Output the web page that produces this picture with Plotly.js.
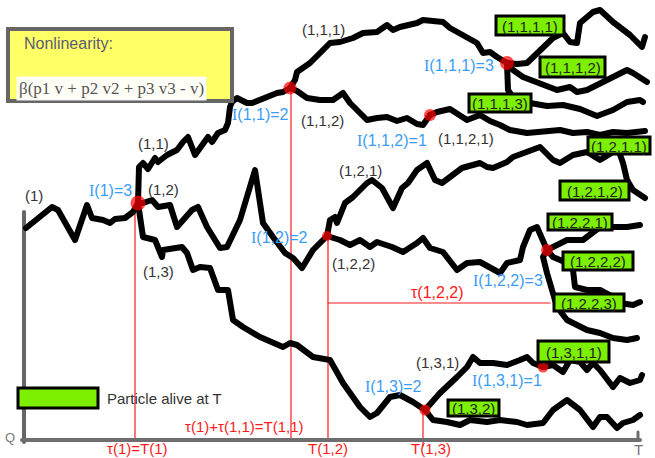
<!DOCTYPE html>
<html>
<head>
<meta charset="utf-8">
<script src="https://cdn.plot.ly/plotly-3.0.1.min.js"></script>
<style>
html,body{margin:0;padding:0;background:#fff;}
#chart{width:655px;height:458px;}
.scatterlayer path.js-line{stroke-linejoin:round;stroke-linecap:round;}
</style>
</head>
<body>
<div id="chart"></div>
<script>
// ---- Particle trajectories (time, position) ----
const path_1    = [[26,228],[40,217],[52,207],[58,210],[75,240],[87,205],[92,218],[103,220],[110,223],[115,219],[125,218],[133,212],[138,203]];
const path_11   = [[138,203],[139,167],[143,163],[148,169],[155,158],[158,162],[167,155],[177,150],[183,142],[188,137],[195,155],[200,148],[203,142],[208,137],[212,142],[218,133],[225,130],[228,123],[230,107],[232,102],[237,98],[242,100],[247,103],[252,103],[260,100],[267,97],[270,95],[277,93],[283,92],[290,88]];
const path_111  = [[290,88],[295,80],[297,72],[310,63],[320,53],[330,43],[340,42],[353,38],[363,33],[377,32],[387,25],[393,30],[400,27],[417,23],[423,20],[437,22],[443,22],[450,28],[460,33],[470,38],[477,43],[483,53],[490,52],[497,57],[507,63]];
const path_1111 = [[507,63],[517,64],[527,63],[540,50],[553,38],[563,33],[570,42],[577,43],[580,23],[593,12],[600,10],[613,22],[630,35],[642,47],[645,37]];
const path_1112 = [[507,63],[513,70],[523,77],[537,82],[547,87],[557,90],[570,87],[577,92],[587,90],[600,83],[613,77],[627,70],[633,73],[647,82]];
const path_1113 = [[507,63],[508,90],[513,97],[530,103],[547,106],[563,105],[580,109],[597,116],[613,110],[627,102],[640,100],[643,102]];
const path_112  = [[290,88],[297,91],[307,98],[320,100],[333,100],[343,93],[350,103],[360,113],[367,120],[377,118],[387,117],[397,121],[407,118],[417,124],[423,125],[430,115]];
const path_1121 = [[430,115],[437,112],[450,109],[457,113],[467,120],[480,115],[490,121],[500,125],[510,130],[527,133],[547,132],[560,130],[573,133],[587,132],[600,135],[613,132],[627,133],[645,131]];
const path_12   = [[138,203],[143,203],[152,200],[158,207],[170,205],[177,227],[192,210],[198,207],[207,227],[220,248],[227,247],[240,220],[255,170],[263,223],[273,237],[285,253],[293,258],[302,268],[313,250],[327,236]];
const path_121  = [[327,236],[330,220],[335,217],[337,223],[345,203],[353,197],[367,183],[372,180],[382,188],[393,208],[402,188],[408,183],[417,170],[427,163],[435,180],[442,183],[450,177],[462,168],[480,163],[487,167],[493,168],[507,162],[513,157],[523,153],[540,147],[553,160],[560,163],[573,155],[587,152],[600,160],[610,153],[618,149]];
const path_1211 = [[618,149],[633,143],[640,140],[645,140]];
const path_1212 = [[618,149],[623,163],[627,180],[633,190],[645,198]];
const path_122  = [[327,236],[340,240],[350,245],[360,240],[370,247],[377,242],[392,247],[403,252],[417,243],[423,238],[430,248],[443,252],[457,270],[467,263],[480,262],[490,268],[500,273],[507,263],[520,260],[523,247],[530,230],[537,227],[547,250]];
const path_1221 = [[547,250],[553,247],[567,240],[583,240],[593,233],[600,227],[613,227],[627,227],[640,225]];
const path_1222 = [[547,250],[553,257],[567,263],[573,270],[575,287],[587,290],[600,290],[613,297],[620,303],[633,305],[640,302]];
const path_1223 = [[547,250],[543,257],[547,273],[552,293],[557,307],[567,320],[573,323],[587,330],[600,333],[613,338],[627,340],[637,338]];
const path_13   = [[138,203],[143,237],[155,240],[162,257],[163,250],[182,247],[187,253],[193,270],[200,267],[210,268],[218,290],[228,290],[233,320],[243,327],[260,337],[283,347],[290,343],[297,345],[313,357],[330,360],[343,383],[360,407],[370,417],[377,413],[390,397],[400,395],[413,402],[425,410]];
const path_131  = [[425,410],[440,393],[457,377],[467,367],[473,357],[480,363],[493,363],[507,365],[520,360],[527,357],[533,363],[543,367]];
const path_1311 = [[543,367],[553,365],[563,372],[570,360],[580,362],[587,370],[593,363],[600,370],[613,387],[620,378],[630,383],[640,380],[642,375]];
const path_132  = [[425,410],[427,413],[433,420],[447,422],[460,425],[470,420],[487,422],[500,420],[517,422],[527,425],[543,423],[553,410],[567,400],[580,410],[593,427],[600,417],[607,417],[617,428],[623,423],[633,420],[640,415]];

// ---- Branching events ----
const nodeX = [138, 290, 507, 430, 327, 547, 425, 543, 618];
const nodeY = [203,  88,  63, 115, 236, 250, 410, 367, 149];
const nodeSize = [15, 13, 14, 12, 10, 12, 11, 11, 6];

// ---- Branching times (vertical markers) ----
const branchX   = [135, 291, 328, 423];
const branchTop = [205,  88, 236, 410];
const branchBot = [440, 440, 440, 446];
const tau122 = {x0: 328, x1: 550, y: 303};

// ---- Particles alive at T (label boxes) ----
const aliveLabels = ['(1,1,1,1)','(1,1,1,2)','(1,1,1,3)','(1,2,1,1)','(1,2,1,2)','(1,2,2,1)','(1,2,2,2)','(1,2,2,3)','(1,3,1,1)','(1,3,2)'];
const aliveBoxes = [[496,16,564,35],[540,57,605,77],[469,94,531,112],[588,137,650,154],[560,181,629,200],[548,214,612,230],[563,252,633,270],[554,294,624,311],[538,341,609,362],[448,400,499,416]];

const paths = [path_1,path_11,path_111,path_1111,path_1112,path_1113,path_112,path_1121,path_12,path_121,path_1211,path_1212,path_122,path_1221,path_1222,path_1223,path_13,path_131,path_1311,path_132];

const RED = '#ff1a1a', BLUE = '#3b9cf7', DARK = '#333333';
const SANS = 'Liberation Sans, Arial, sans-serif';

const traces = [];
// red time markers
branchX.forEach((bx,i)=>{
  traces.push({x:[bx,bx], y:[branchTop[i],branchBot[i]], mode:'lines', line:{color:RED,width:1.2}, hoverinfo:'skip'});
});
traces.push({x:[tau122.x0,tau122.x1], y:[tau122.y,tau122.y], mode:'lines', line:{color:RED,width:1.2}, hoverinfo:'skip'});
// axes
traces.push({x:[24,24], y:[212,442], mode:'lines', line:{color:'#666',width:4}, hoverinfo:'skip'});
traces.push({x:[22,640], y:[440,440], mode:'lines', line:{color:'#6e6e6e',width:4}, hoverinfo:'skip'});
traces.push({x:[638,638], y:[432,440], mode:'lines', line:{color:'#6e6e6e',width:3}, hoverinfo:'skip'});
// trajectories
paths.forEach(p=>{
  traces.push({x:p.map(d=>d[0]), y:p.map(d=>d[1]), mode:'lines', line:{color:'#000',width:6}, hoverinfo:'skip'});
});
// branching nodes
traces.push({x:nodeX, y:nodeY, mode:'markers', marker:{color:'#ff0000', size:nodeSize, line:{width:0}}, hoverinfo:'skip'});

const shapes = [];
// Nonlinearity box
shapes.push({type:'rect', xref:'x', yref:'y', x0:8, y0:29, x1:232, y1:101, fillcolor:'#ffff66', line:{color:'#666', width:4}, layer:'above'});
aliveBoxes.forEach(b=>{
  shapes.push({type:'rect', xref:'x', yref:'y', x0:b[0], y0:b[1], x1:b[2], y1:b[3], fillcolor:'#7cf000', line:{color:'#000', width:3}, layer:'above'});
});
shapes.push({type:'rect', xref:'x', yref:'y', x0:18, y0:388, x1:98, y1:408, fillcolor:'#7cf000', line:{color:'#000', width:3}, layer:'above'});

const ann = [];
function t(text,x,y,color,size,opts){
  ann.push(Object.assign({text:text, x:x, y:y, xref:'x', yref:'y', showarrow:false, xanchor:'center', yanchor:'middle', font:{family:SANS, size:size||15, color:color}}, opts||{}));
}
aliveLabels.forEach((l,i)=>{
  const b = aliveBoxes[i];
  t(l,(b[0]+b[2])/2,(b[1]+b[3])/2+0.5,'#222',15);
});
// generation labels
t('(1)',34,195,DARK); t('(1,1)',153,143,DARK); t('(1,2)',163,189,DARK); t('(1,3)',158,271,DARK);
t('(1,1,1)',323,29,DARK); t('(1,1,2)',322,120,DARK); t('(1,1,2,1)',466,138,DARK);
t('(1,2,1)',360,170,DARK); t('(1,2,2)',353,263,DARK); t('(1,3,1)',437,362,DARK);
// offspring counts
const I = '<span style="font-family:Liberation Serif,serif">I</span>';
t(I+'(1)=3',110,190,BLUE,16); t(I+'(1,1)=2',260,114,BLUE,16); t(I+'(1,1,1)=3',459,65,BLUE,16);
t(I+'(1,1,2)=1',392,140,BLUE,16); t(I+'(1,2)=2',279,237,BLUE,16); t(I+'(1,2,2)=3',508,280,BLUE,16);
t(I+'(1,3)=2',393,386,BLUE,16); t(I+'(1,3,1)=1',507,380,BLUE,16);
// times
t('τ(1,2,2)',437,292,RED,16); t('τ(1)=T(1)',137,448,RED,15); t('τ(1)+τ(1,1)=T(1,1)',244,426,RED,15);
t('T(1,2)',328,448,RED,15); t('T(1,3)',431,448,RED,15);
// misc
t('Particle alive at T',105,398,DARK,15,{xanchor:'left'});
t('Q',10,437,'#777',13);
t('T',638,449,'#777',15);
t('Nonlinearity:',22,43,'#5c5c74',16,{xanchor:'left'});
t('β(p1 v + p2 v2 + p3 v3 - v)',16,88,'#555',17,{xanchor:'left', bgcolor:'rgba(255,255,255,0.95)', borderpad:2, font:{family:'Liberation Serif, serif', size:17, color:'#555'}});

const layout = {
  width:655, height:458, margin:{l:0,r:0,t:0,b:0},
  paper_bgcolor:'#fff', plot_bgcolor:'#fff', showlegend:false,
  xaxis:{range:[0,655], visible:false, fixedrange:true},
  yaxis:{range:[458,0], visible:false, fixedrange:true},
  shapes:shapes, annotations:ann
};
Plotly.newPlot('chart', traces, layout, {staticPlot:true, displayModeBar:false});
</script>
</body>
</html>
